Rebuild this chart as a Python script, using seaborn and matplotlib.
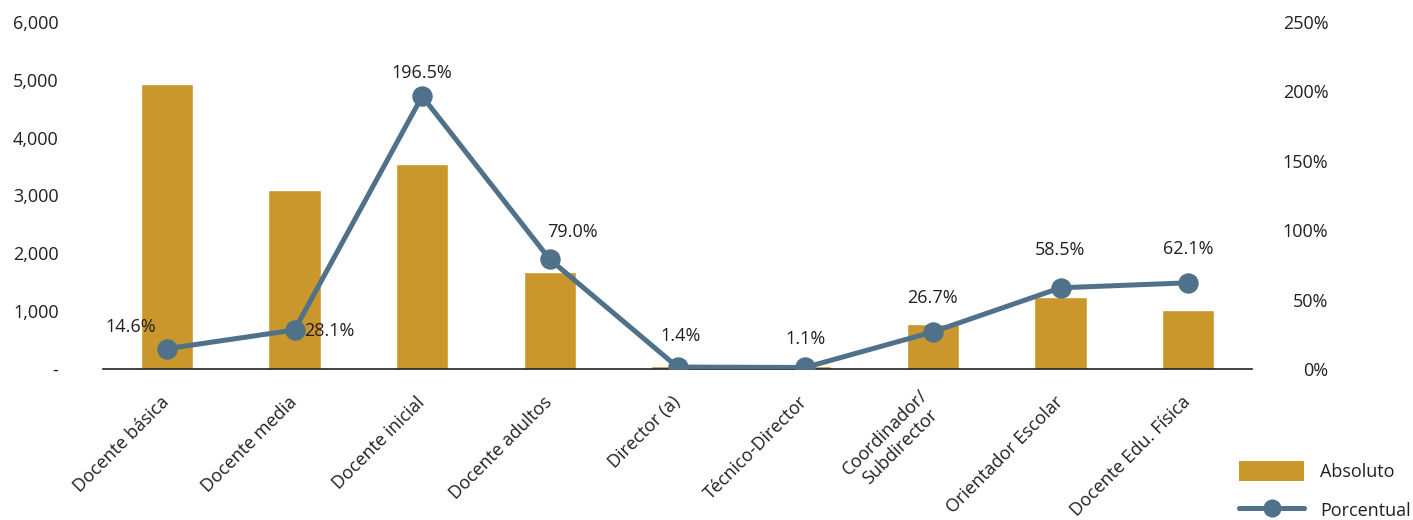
import matplotlib
matplotlib.use("Agg")
import matplotlib.pyplot as plt
import seaborn as sns
import pandas as pd
from matplotlib.ticker import FuncFormatter
from matplotlib.lines import Line2D
from matplotlib.patches import Patch

categories = ["Docente básica", "Docente media", "Docente inicial", "Docente adultos",
              "Director (a)", "Técnico-Director", "Coordinador/\nSubdirector",
              "Orientador Escolar", "Docente Edu. Física"]
absoluto = [4930, 3090, 3540, 1670, 50, 45, 770, 1240, 1020]
porcentual = [14.6, 28.1, 196.5, 79.0, 1.4, 1.1, 26.7, 58.5, 62.1]
left_ticks = [0, 1000, 2000, 3000, 4000, 5000, 6000]
right_ticks = [0, 50, 100, 150, 200, 250]

bar_color = "#C9972B"
line_color = "#4F7189"
text_color = "#231F20"

sns.set_theme(style="white")
plt.rcParams["font.family"] = ["Open Sans", "DejaVu Sans"]
plt.rcParams["text.color"] = text_color

df = pd.DataFrame({"cat": categories, "abs": absoluto, "pct": porcentual})

fig = plt.figure(figsize=(14.13, 5.2), dpi=100)
ax = fig.add_axes([103/1413, 1-369/520, (1252-103)/1413, (369-22)/520])

sns.barplot(data=df, x="cat", y="abs", color=bar_color, width=0.41,
            saturation=1, ax=ax, order=categories)
ax.set_ylim(0, 6000)
ax.set_xlim(-0.5, len(categories) - 0.5)
ax.set_yticks(left_ticks)
ax.yaxis.set_major_formatter(FuncFormatter(lambda v, p: "-" if v == 0 else f"{int(v):,}"))
ax.set_xlabel("")
ax.set_ylabel("")
for s in ["top", "right", "left"]:
    ax.spines[s].set_visible(False)
ax.spines["bottom"].set_color(text_color)
ax.spines["bottom"].set_linewidth(1.2)
ax.tick_params(axis="y", length=0, labelsize=13, pad=32, colors=text_color)
ax.tick_params(axis="x", length=0, labelsize=13, colors=text_color, pad=22)
ax.set_xticks(range(len(categories)))
ax.set_xticklabels(categories, rotation=45, ha="right", va="center",
                   rotation_mode="anchor", multialignment="center")

ax2 = ax.twinx()
sns.pointplot(data=df, x="cat", y="pct", color=line_color, order=categories,
              markers="o", markersize=12, linewidth=3.6, ax=ax2, errorbar=None)
ax2.set_xlim(-0.5, len(categories) - 0.5)
ax2.set_ylim(0, 250)
ax2.set_yticks(right_ticks)
ax2.yaxis.set_major_formatter(FuncFormatter(lambda v, p: f"{int(v)}%"))
ax2.set_xlabel("")
ax2.set_ylabel("")
for s in ["top", "right", "left", "bottom"]:
    ax2.spines[s].set_visible(False)
for lab in ax2.get_yticklabels():
    lab.set_ha("right")
ax2.tick_params(axis="y", length=0, labelsize=13, pad=55, colors=text_color)

offsets = [(-26, 9), (25, -7), (0, 10), (16, 13), (2, 16), (0, 14), (0, 18), (0, 21), (0, 18)]
for i, (v, off) in enumerate(zip(porcentual, offsets)):
    ax2.annotate(f"{v:.1f}%", (i, v), xytext=off, textcoords="offset points",
                 ha="center", va="bottom", fontsize=13, color=text_color)

handles = [Patch(facecolor=bar_color, edgecolor="none"),
           Line2D([0], [0], color=line_color, lw=3.6, marker="o", markersize=12)]
fig.legend(handles, ["Absoluto", "Porcentual"], loc="lower right",
           bbox_to_anchor=(1.01, -0.031), frameon=False, fontsize=13,
           handlelength=3.6, handleheight=1.3, labelspacing=1.05, handletextpad=0.9)

fig.savefig("out.png", dpi=100)
